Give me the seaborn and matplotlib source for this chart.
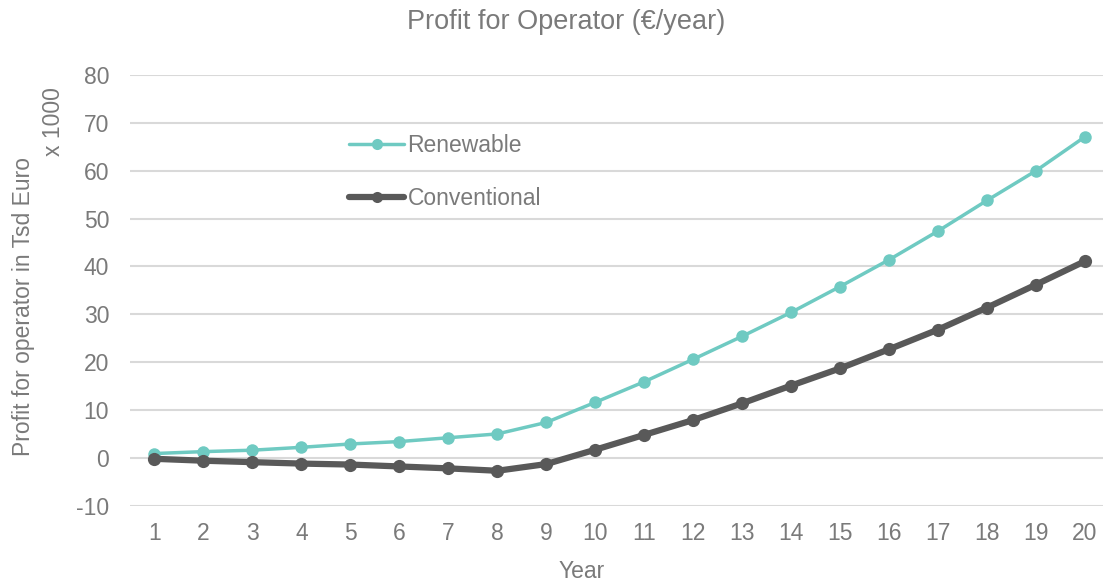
import pandas as pd
import seaborn as sns
import matplotlib.pyplot as plt
from matplotlib.lines import Line2D

# profit per year, Tsd Euro
years = list(range(1, 21))
renewable = [0.9, 1.3, 1.6, 2.2, 2.9, 3.4, 4.2, 5.0, 7.4, 11.6,
             15.9, 20.6, 25.4, 30.4, 35.8, 41.4, 47.4, 53.8, 60.0, 67.1]
conventional = [-0.2, -0.6, -0.9, -1.2, -1.4, -1.8, -2.2, -2.7, -1.3, 1.7,
                4.8, 7.9, 11.4, 15.1, 18.7, 22.7, 26.8, 31.4, 36.2, 41.1]
yticks = list(range(-10, 90, 10))

teal = '#6fcac2'
dark = '#595959'
grey_txt = '#7a7a7a'

sns.set_theme(style='white')
plt.rcParams['font.family'] = ['Liberation Sans', 'DejaVu Sans']
plt.rcParams['axes.unicode_minus'] = False

data = pd.DataFrame({'Year': years, 'Renewable': renewable, 'Conventional': conventional})

fig = plt.figure(figsize=(11.03, 5.86), dpi=100)
ax = fig.add_axes([130 / 1103, (586 - 505.7) / 586, 979.5 / 1103, 430.7 / 586])

sns.lineplot(data=data, x='Year', y='Renewable', ax=ax, color=teal, linewidth=2.5,
             marker='o', markersize=9, markeredgewidth=0, zorder=3)
sns.lineplot(data=data, x='Year', y='Conventional', ax=ax, color=dark, linewidth=4.5,
             marker='o', markersize=9.5, markeredgewidth=0, zorder=4)

ax.set_xlim(0.5, 20.5)
ax.set_ylim(-10, 80)
ax.set_xticks(years)
ax.set_yticks(yticks)
ax.grid(axis='y', color='#d9d9d9', linewidth=1.5)
ax.set_axisbelow(True)
for s in ax.spines.values():
    s.set_visible(False)
ax.tick_params(axis='both', length=0, labelsize=16.5, colors=grey_txt)
ax.tick_params(axis='x', pad=12)
ax.tick_params(axis='y', pad=15)
ax.set_xlabel('')
ax.set_ylabel('')

fig.text(582 / 1103, 1 - 571 / 586, 'Year', ha='center', va='center', fontsize=16.5, color=grey_txt)
fig.text(24 / 1103, 1 - 307 / 586, 'Profit for operator in Tsd Euro', rotation=90,
         ha='center', va='center', fontsize=16.5, color=grey_txt)
fig.text(53 / 1103, 1 - 122 / 586, 'x 1000', rotation=90,
         ha='center', va='center', fontsize=16.5, color=grey_txt)
fig.text(566 / 1103, 1 - 22 / 586, 'Profit for Operator (€/year)', ha='center', va='center',
         fontsize=19.5, color=grey_txt)

handles = [
    Line2D([], [], color=teal, linewidth=2.5, marker='o', markersize=8, markeredgewidth=0),
    Line2D([], [], color=dark, linewidth=4.5, marker='o', markersize=8, markeredgewidth=0),
]
leg = fig.legend(handles, ['Renewable', 'Conventional'], loc='center left',
                 bbox_to_anchor=(349 / 1103, 1 - 172 / 586), frameon=False,
                 fontsize=16.5, handlelength=2.4, handletextpad=0.15, labelspacing=1.3,
                 borderaxespad=0, borderpad=0)
for t in leg.get_texts():
    t.set_color(grey_txt)

fig.savefig('out.png', dpi=100)
